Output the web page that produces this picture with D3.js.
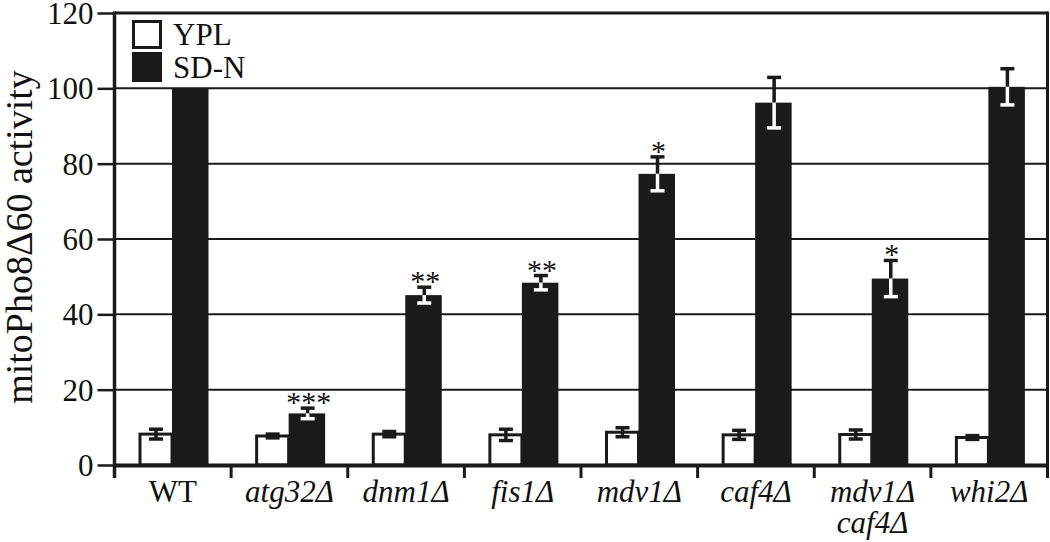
<!DOCTYPE html>
<html><head><meta charset="utf-8">
<script src="https://cdn.jsdelivr.net/npm/d3@7"></script>
<style>
html,body{margin:0;padding:0;background:#fff;}
svg text{font-family:"Liberation Serif","Times New Roman",serif;fill:#111;}
</style></head>
<body>
<svg id="chart" width="1050" height="542"></svg>
<script>
const categories = ["WT", "atg32Δ", "dnm1Δ", "fis1Δ", "mdv1Δ", "caf4Δ", "mdv1Δ\ncaf4Δ", "whi2Δ"];
const italicLabel = [false, true, true, true, true, true, true, true];
const series = ["YPL", "SD-N"];
const yplValues = [8.2, 7.7, 8.2, 8.0, 8.7, 8.0, 8.1, 7.3];
const yplErrors = [1.3, 0.5, 0.7, 1.5, 1.2, 1.2, 1.2, 0.5];
const sdnValues = [100, 13.7, 45.1, 48.4, 77.3, 96.2, 49.5, 100.4];
const sdnErrors = [0, 1.4, 2.1, 1.9, 4.5, 6.7, 4.8, 4.8];
const significance = ["", "***", "**", "**", "*", "", "*", ""];
const yTicks = [0, 20, 40, 60, 80, 100, 120];
const yTitle = "mitoPho8Δ60 activity";

const svg = d3.select("#chart");
const x0 = d3.scaleBand().domain(categories).range([114.5, 1047.5]).padding(0);
const x1 = d3.scaleBand().domain(series).range([0, x0.bandwidth()])
  .paddingInner(0).paddingOuter(0.666).align(0.515);
const y = d3.scaleLinear().domain([0, 120]).range([465, 13]);
const bw = x1.bandwidth();
const dark = "#1a1a1a";

// gridlines
svg.append("g").selectAll("line").data(yTicks.filter(t => t > 0 && t < 120)).join("line")
  .attr("x1", x0.range()[0]).attr("x2", x0.range()[1])
  .attr("y1", d => y(d)).attr("y2", d => y(d))
  .attr("stroke", dark).attr("stroke-width", 2);

// y axis
const yAxis = svg.append("g").attr("transform", `translate(${x0.range()[0]},0)`)
  .call(d3.axisLeft(y).tickValues(yTicks).tickSize(17).tickPadding(4));
yAxis.select(".domain").remove();
yAxis.selectAll(".tick line").attr("stroke", dark).attr("stroke-width", 2.5);
yAxis.selectAll(".tick text").attr("font-size", 31).attr("dy", "0.34em").attr("fill", "#111");

const data = categories.map((c, i) => ({c, i, ypl: yplValues[i], yplE: yplErrors[i], sdn: sdnValues[i], sdnE: sdnErrors[i], sig: significance[i]}));

const groups = svg.append("g").selectAll("g").data(data).join("g")
  .attr("transform", d => `translate(${x0(d.c)},0)`);

// YPL bars
groups.append("rect")
  .attr("x", x1("YPL") + 1.5).attr("width", bw - 3)
  .attr("y", d => y(d.ypl)).attr("height", d => y(0) - y(d.ypl))
  .attr("fill", "#fff").attr("stroke", dark).attr("stroke-width", 3);
// SD-N bars
groups.append("rect")
  .attr("x", x1("SD-N") - 1.5).attr("width", bw + 1.5)
  .attr("y", d => y(d.sdn)).attr("height", d => y(0) - y(d.sdn))
  .attr("fill", dark);

function errBar(g, cx, v, e, lowColor) {
  if (!e) return;
  const cap = 7;
  g.append("line").attr("x1", cx).attr("x2", cx).attr("y1", y(v)).attr("y2", y(v + e))
    .attr("stroke", dark).attr("stroke-width", 3.5);
  g.append("line").attr("x1", cx - cap).attr("x2", cx + cap).attr("y1", y(v + e)).attr("y2", y(v + e))
    .attr("stroke", dark).attr("stroke-width", 3.5);
  g.append("line").attr("x1", cx).attr("x2", cx).attr("y1", y(v)).attr("y2", y(v - e))
    .attr("stroke", lowColor).attr("stroke-width", 3.5);
  g.append("line").attr("x1", cx - cap).attr("x2", cx + cap).attr("y1", y(v - e)).attr("y2", y(v - e))
    .attr("stroke", lowColor).attr("stroke-width", 3.5);
}
groups.each(function(d) {
  const g = d3.select(this);
  errBar(g, x1("YPL") + bw / 2, d.ypl, d.yplE, dark);
  errBar(g, x1("SD-N") + bw / 2, d.sdn, d.sdnE, "#fff");
  if (d.sig) {
    g.append("text").attr("x", x1("SD-N") + bw / 2 + 1).attr("y", y(d.sdn + d.sdnE) + 4)
      .attr("text-anchor", "middle").attr("font-size", 30)
      .attr("fill", "#333").text(d.sig);
  }
});

// frame
const [xl, xr] = x0.range();
svg.append("line").attr("x1", xl).attr("x2", xr).attr("y1", y(120)).attr("y2", y(120)).attr("stroke", dark).attr("stroke-width", 3);
svg.append("line").attr("x1", xr).attr("x2", xr).attr("y1", y(120) - 1.5).attr("y2", 478).attr("stroke", dark).attr("stroke-width", 3);
svg.append("line").attr("x1", xl).attr("x2", xl).attr("y1", y(120) - 1.5).attr("y2", 478).attr("stroke", dark).attr("stroke-width", 3.5);
svg.append("line").attr("x1", xl).attr("x2", xr).attr("y1", y(0) + 0.5).attr("y2", y(0) + 0.5).attr("stroke", dark).attr("stroke-width", 4);
// category boundary ticks
svg.append("g").selectAll("line").data(categories.slice(1)).join("line")
  .attr("x1", d => x0(d)).attr("x2", d => x0(d)).attr("y1", y(0)).attr("y2", 478)
  .attr("stroke", dark).attr("stroke-width", 3);

// x labels
const lab = svg.append("g").selectAll("text").data(data).join("text")
  .attr("x", d => x0(d.c) + x0.bandwidth() / 2).attr("y", 502)
  .attr("text-anchor", "middle").attr("font-size", 31)
  .attr("font-style", d => italicLabel[d.i] ? "italic" : "normal");
lab.each(function(d) {
  const t = d3.select(this);
  d.c.split("\n").forEach((line, k) => {
    t.append("tspan").attr("x", x0(d.c) + x0.bandwidth() / 2).attr("dy", k === 0 ? 0 : 31).text(line);
  });
});

// y title
svg.append("text").attr("transform", "translate(32,237) rotate(-90)")
  .attr("text-anchor", "middle").attr("font-size", 38).text(yTitle);

// legend
const legend = svg.append("g");
legend.append("rect").attr("x", 133.5).attr("y", 21.5).attr("width", 27).attr("height", 26)
  .attr("fill", "#fff").attr("stroke", dark).attr("stroke-width", 3);
legend.append("rect").attr("x", 132).attr("y", 52).attr("width", 30).attr("height", 30).attr("fill", dark);
legend.append("text").attr("x", 173).attr("y", 45).attr("font-size", 31).text(series[0]);
legend.append("text").attr("x", 173).attr("y", 78).attr("font-size", 31).text(series[1]);
</script>
</body></html>
